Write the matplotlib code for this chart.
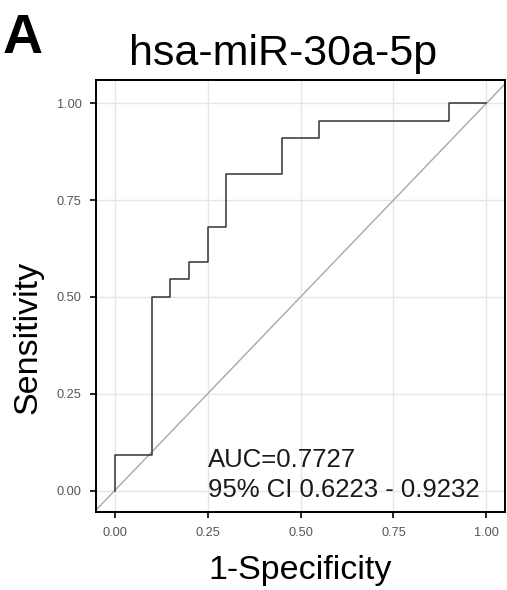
import matplotlib
matplotlib.use("Agg")
import matplotlib.pyplot as plt
import numpy as np

plt.rcParams['font.family'] = ['Liberation Sans', 'DejaVu Sans']

# ROC step points (1-Specificity, Sensitivity)
fpr = [0.0, 0.0, 0.10, 0.10, 0.15, 0.15, 0.20, 0.20, 0.25, 0.25, 0.30, 0.30, 0.45, 0.45, 0.55, 0.55, 0.90, 0.90, 1.0]
tpr = [0.0, 2/22, 2/22, 11/22, 11/22, 12/22, 12/22, 13/22, 13/22, 15/22, 15/22, 18/22, 18/22, 20/22, 20/22, 21/22, 21/22, 1.0, 1.0]
ticks = [0.0, 0.25, 0.5, 0.75, 1.0]
tick_labels = ["0.00", "0.25", "0.50", "0.75", "1.00"]
title = "hsa-miR-30a-5p"
auc_text = "AUC=0.7727"
ci_text = "95% CI 0.6223 - 0.9232"

W, H = 507, 590
fig = plt.figure(figsize=(W/100, H/100), dpi=100)
ax = fig.add_axes([96/W, 1-512/H, (505-96)/W, (512-80)/H])

ax.set_xlim(-0.05, 1.05)
ax.set_ylim(-0.055, 1.06)
ax.set_xticks(ticks)
ax.set_yticks(ticks)
ax.set_xticklabels(tick_labels)
ax.set_yticklabels(tick_labels)
ax.grid(True, color='#e6e6e6', linewidth=1.0)
ax.set_axisbelow(True)

ax.plot([-0.05, 1.05], [-0.05, 1.05], color='#a8a8a8', linewidth=1.0, zorder=2)
ax.plot(fpr, tpr, color='#333333', linewidth=1.1, zorder=3)

ax.text(0.25, 0.08, auc_text, fontsize=18.5, color='#1a1a1a', va='center', ha='left')
ax.text(0.25, 0.002, ci_text, fontsize=18.5, color='#1a1a1a', va='center', ha='left')

for s in ax.spines.values():
    s.set_linewidth(1.4)
    s.set_color('black')
ax.tick_params(axis='both', direction='out', length=4.5, width=1.2, color='black',
               labelsize=9.2, labelcolor='#555555', pad=6)

ax.set_xlabel("1-Specificity", fontsize=24.5, labelpad=12)
fig.text(28/W, 1-337/H, "Sensitivity", fontsize=24.5, rotation=90, ha='center', va='center')
fig.text(283/W, 1-65/H, title, fontsize=31, ha='center', va='baseline')

fig.text(3/W, 1-53/H, "A", fontsize=40, fontweight='bold', ha='left', va='baseline')

fig.savefig("out.png", dpi=100)
